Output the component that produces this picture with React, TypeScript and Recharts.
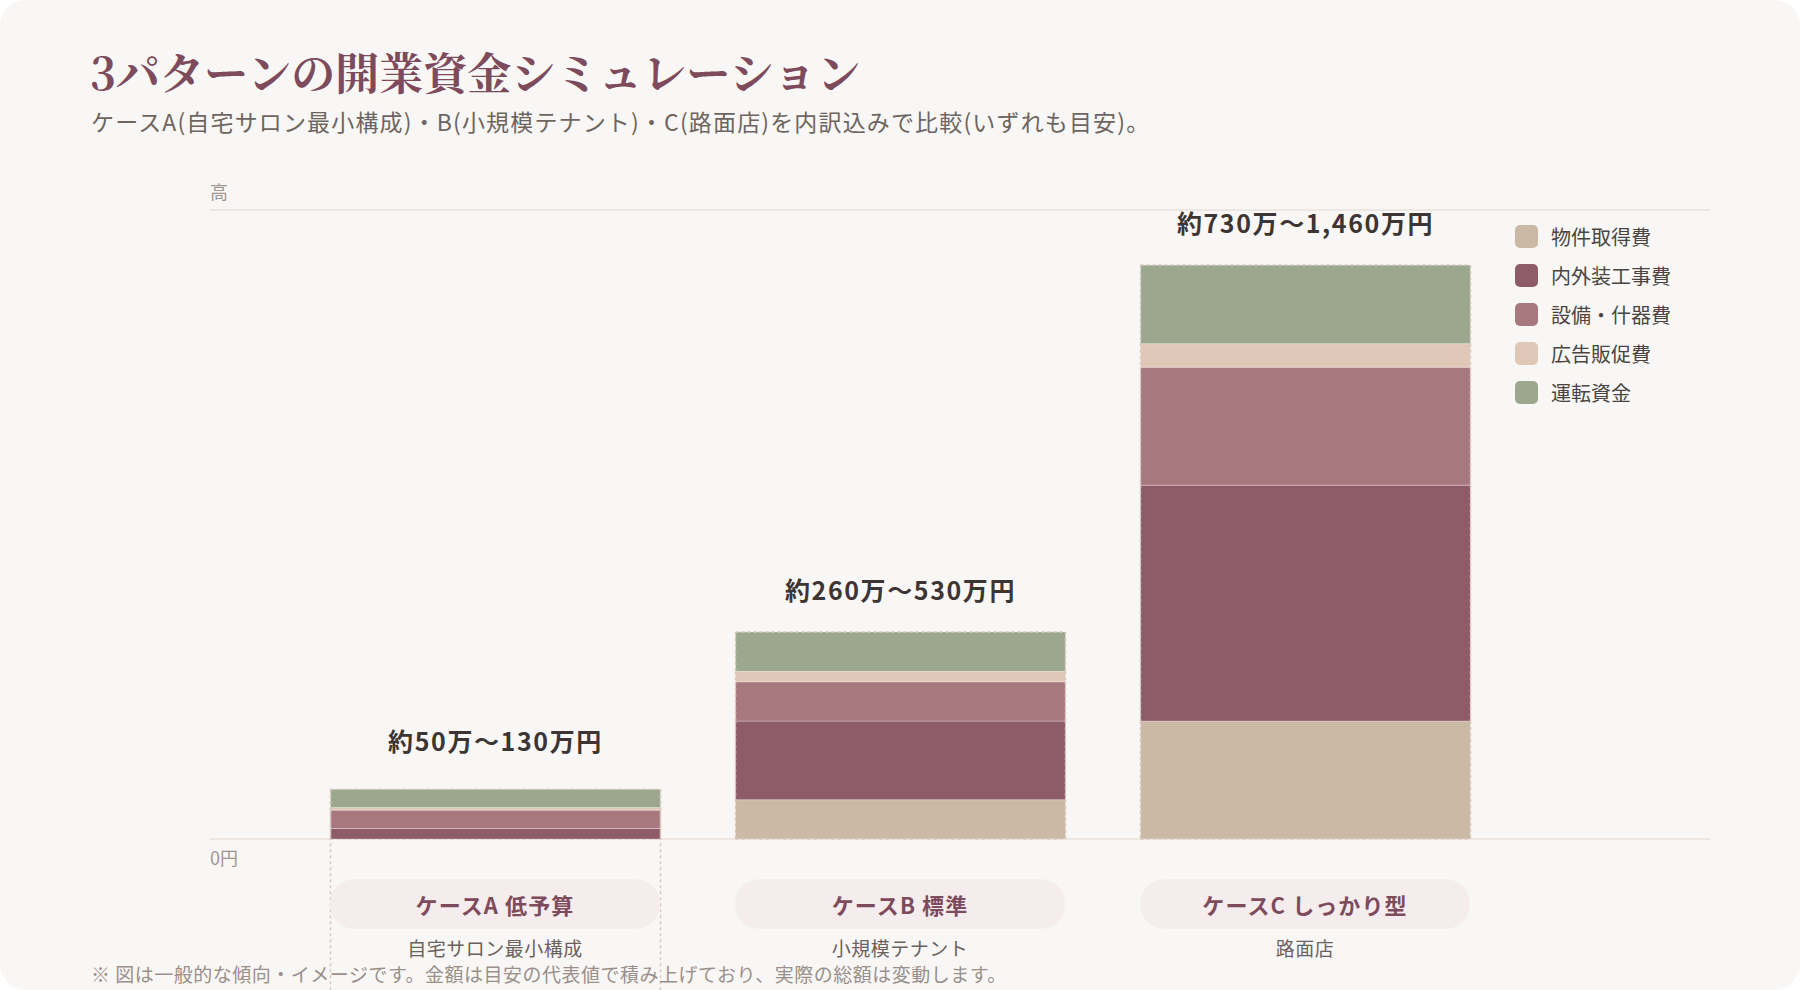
import React from 'react';
import { BarChart, Bar, XAxis, YAxis, CartesianGrid, LabelList } from 'recharts';

// ---- data (万円) ----
const categories = ['ケースA 低予算', 'ケースB 標準', 'ケースC しっかり型'];
const subLabels = ['自宅サロン最小構成', '小規模テナント', '路面店'];
const rangeLabels = ['約50万〜130万円', '約260万〜530万円', '約730万〜1,460万円'];

const seriesNames = ['物件取得費', '内外装工事費', '設備・什器費', '広告販促費', '運転資金'];
const seriesColors = ['#cbb8a5', '#8e5b68', '#a8787f', '#e0c8b8', '#9ca88e'];

const propertyCost = [0, 75, 225];
const interiorCost = [20, 150, 450];
const equipmentCost = [35, 75, 225];
const promotionCost = [5, 20, 45];
const workingCapital = [35, 75, 150];

const yTickValues = [0, 1200];
const yTickLabels = ['0円', '高'];

const seriesValues = [propertyCost, interiorCost, equipmentCost, promotionCost, workingCapital];
const seriesKeys = ['s0', 's1', 's2', 's3', 's4'];

const data = categories.map((name, i) => {
  const row: Record<string, string | number> = { name, sub: subLabels[i], range: rangeLabels[i] };
  seriesKeys.forEach((k, s) => {
    row[k] = seriesValues[s][i];
  });
  return row;
});

// ---- layout ----
const W = 1800;
const H = 990;
const BAR_SIZE = 330;
const FONT = '"Noto Sans CJK JP", "Noto Sans", sans-serif';
const DASH = '#d8c8bf';

const makeShape = (seriesIndex: number) => (props: any) => {
  const { x, y, width, height, fill, index } = props;
  if (width == null || height == null) return null;
  const isTop = seriesIndex === seriesKeys.length - 1;
  const isBottom = seriesIndex === 0;
  const h = Math.max(0, height);
  return (
    <g>
      {h > 0 && (
        <rect x={x} y={y} width={width} height={h} fill={fill} stroke="rgba(255,255,255,0.28)" strokeWidth={1} />
      )}
      {h > 0 && (
        <>
          <line x1={x} y1={y} x2={x} y2={y + h} stroke={DASH} strokeWidth={1.5} strokeDasharray="3 3" />
          <line x1={x + width} y1={y} x2={x + width} y2={y + h} stroke={DASH} strokeWidth={1.5} strokeDasharray="3 3" />
        </>
      )}
      {isTop && (
        <line x1={x} y1={y} x2={x + width} y2={y} stroke={DASH} strokeWidth={1.5} strokeDasharray="3 3" />
      )}
      {isBottom && (
        <line x1={x} y1={y + h} x2={x + width} y2={y + h} stroke={DASH} strokeWidth={1.5} strokeDasharray="3 3" />
      )}
      {isTop && index === 0 && (
        <>
          <line x1={x} y1={y} x2={x} y2={H} stroke={DASH} strokeWidth={1.5} strokeDasharray="3 3" />
          <line x1={x + width} y1={y} x2={x + width} y2={H} stroke={DASH} strokeWidth={1.5} strokeDasharray="3 3" />
        </>
      )}
    </g>
  );
};

const RangeLabel = (props: any) => {
  const { x, y, width, index } = props;
  // short stacks get a little extra headroom above the bar
  const gap = y > 700 ? 49 : 43;
  return (
    <text
      x={x + width / 2}
      y={y - gap}
      textAnchor="middle"
      dominantBaseline="central"
      fontFamily={FONT}
      fontSize={25}
      fontWeight={700}
      letterSpacing={1.6}
      fill="#3d3533"
    >
      {rangeLabels[index]}
    </text>
  );
};

const CategoryTick = (props: any) => {
  const { x, y, payload, index } = props;
  return (
    <g>
      <rect x={x - BAR_SIZE / 2} y={y + 40} width={BAR_SIZE} height={50} rx={25} ry={25} fill="#f5eced" />
      <text
        x={x}
        y={y + 65}
        textAnchor="middle"
        dominantBaseline="central"
        fontFamily={FONT}
        fontSize={22}
        fontWeight={700}
        letterSpacing={1.1}
        fill="#7d4b5b"
      >
        {payload.value}
      </text>
      <text
        x={x}
        y={y + 108}
        textAnchor="middle"
        dominantBaseline="central"
        fontFamily={FONT}
        fontSize={19}
        letterSpacing={0.5}
        fill="#6b625e"
      >
        {subLabels[index]}
      </text>
    </g>
  );
};

const ValueTick = (props: any) => {
  const { x, y, payload } = props;
  const i = yTickValues.indexOf(payload.value);
  const isZero = payload.value === 0;
  return (
    <text
      x={x}
      y={isZero ? y + 18 : y - 19}
      textAnchor="start"
      dominantBaseline="central"
      fontFamily={FONT}
      fontSize={18}
      fill="#a0958f"
    >
      {yTickLabels[i]}
    </text>
  );
};

export default function App() {
  return (
    <div style={{ position: 'absolute', left: 0, top: 0, width: W, height: H, background: '#ffffff' }}>
      <div
        style={{
          position: 'absolute',
          left: 0,
          top: 0,
          width: W,
          height: H,
          borderRadius: 26,
          background: '#f8f7f5',
          overflow: 'hidden',
        }}
      >
        <BarChart
          width={W}
          height={H}
          data={data}
          margin={{ top: 210, right: 90, bottom: 0, left: 150 }}
          style={{ position: 'absolute', left: 0, top: 0 }}
        >
          <CartesianGrid horizontal vertical={false} stroke="#eee6e0" strokeWidth={2} />
          <YAxis
            width={60}
            domain={[0, 1200]}
            ticks={yTickValues}
            axisLine={false}
            tickLine={false}
            tickSize={0}
            tickMargin={0}
            tick={<ValueTick />}
            interval={0}
          />
          <XAxis
            dataKey="name"
            height={151}
            padding={{ left: 82.5, right: 202.5 }}
            axisLine={false}
            tickLine={false}
            tickSize={0}
            tickMargin={0}
            tick={<CategoryTick />}
            interval={0}
          />
          {seriesKeys.map((k, s) => (
            <Bar
              key={k}
              dataKey={k}
              name={seriesNames[s]}
              stackId="total"
              fill={seriesColors[s]}
              barSize={BAR_SIZE}
              isAnimationActive={false}
              shape={makeShape(s)}
            >
              {s === seriesKeys.length - 1 && <LabelList dataKey="range" content={<RangeLabel />} />}
            </Bar>
          ))}
        </BarChart>

        <div
          style={{
            position: 'absolute',
            left: 90,
            top: 44,
            fontFamily: '"Noto Serif CJK JP", "Noto Serif JP", serif',
            fontSize: 44,
            fontWeight: 700,
            color: '#7d4b5b',
            lineHeight: '54px',
            whiteSpace: 'nowrap',
          }}
        >
          3パターンの開業資金シミュレーション
        </div>
        <div
          style={{
            position: 'absolute',
            left: 91,
            top: 106,
            fontFamily: FONT,
            fontSize: 23,
            letterSpacing: 1.15,
            color: '#6e6560',
            lineHeight: '30px',
            whiteSpace: 'nowrap',
          }}
        >
          ケースA(自宅サロン最小構成)・B(小規模テナント)・C(路面店)を内訳込みで比較(いずれも目安)。
        </div>

        <div style={{ position: 'absolute', left: 1515, top: 225, fontFamily: FONT }}>
          {seriesNames.map((n, s) => (
            <div key={n} style={{ display: 'flex', alignItems: 'center', height: 23, marginBottom: 16 }}>
              <div style={{ width: 23, height: 23, borderRadius: 5, background: seriesColors[s] }} />
              <div style={{ marginLeft: 13, fontSize: 20, color: '#4a4543', whiteSpace: 'nowrap' }}>{n}</div>
            </div>
          ))}
        </div>

        <div
          style={{
            position: 'absolute',
            left: 91,
            top: 961,
            fontFamily: FONT,
            fontSize: 19,
            letterSpacing: 0.5,
            color: '#9a8f8a',
            lineHeight: '26px',
            whiteSpace: 'nowrap',
          }}
        >
          ※ 図は一般的な傾向・イメージです。金額は目安の代表値で積み上げており、実際の総額は変動します。
        </div>
      </div>
    </div>
  );
}
